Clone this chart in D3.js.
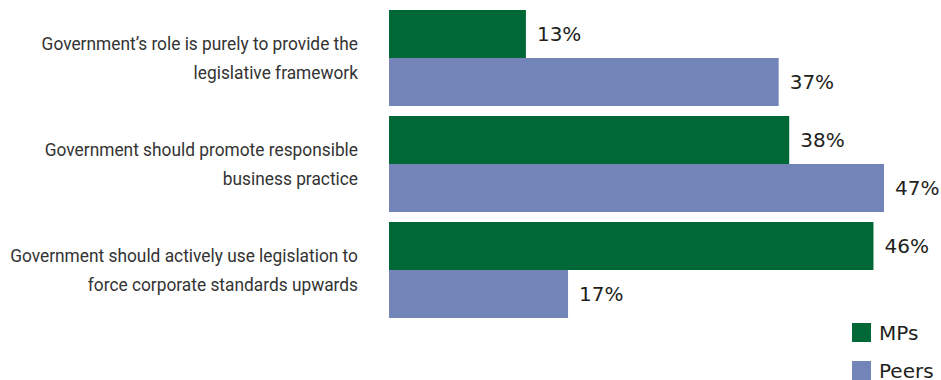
<!DOCTYPE html>
<html>
<head>
<meta charset="utf-8">
<script src="https://cdn.jsdelivr.net/npm/d3@7"></script>
<style>
  html, body { margin: 0; padding: 0; background: #fff; }
  svg { display: block; }
</style>
</head>
<body>
<svg id="chart" width="941" height="380"></svg>
<script>
// Survey statements (each split over two lines)
const categories = [
  ["Government\u2019s role is purely to provide the", "legislative framework"],
  ["Government should promote responsible", "business practice"],
  ["Government should actively use legislation to", "force corporate standards upwards"]
];
const seriesNames = ["MPs", "Peers"];
const mpsValues = [13, 38, 46];
const peersValues = [37, 47, 17];
const colors = ["#006837", "#7384b9"];

const svg = d3.select("#chart");
const labelFont = "Roboto, 'Liberation Sans', sans-serif";
const valueFont = "'DejaVu Sans', sans-serif";
const textColor = "#231f20";

const x = d3.scaleLinear().domain([0, 47]).range([389, 884]);
const y0 = d3.scaleBand().domain(d3.range(categories.length)).range([10, 318]).paddingInner(10 / 106).paddingOuter(0);
const y1 = d3.scaleBand().domain(seriesNames).range([0, y0.bandwidth()]);

const rows = categories.map((c, i) => ({
  i, lines: c,
  values: [{ s: "MPs", v: mpsValues[i] }, { s: "Peers", v: peersValues[i] }]
}));

const g = svg.selectAll("g.group").data(rows).join("g")
  .attr("class", "group")
  .attr("transform", d => `translate(0,${y0(d.i)})`);

g.selectAll("rect").data(d => d.values).join("rect")
  .attr("x", x(0))
  .attr("y", d => y1(d.s))
  .attr("width", d => x(d.v) - x(0))
  .attr("height", y1.bandwidth())
  .attr("fill", d => colors[seriesNames.indexOf(d.s)]);

g.selectAll("text.value").data(d => d.values).join("text")
  .attr("class", "value")
  .attr("x", d => x(d.v) + 11)
  .attr("y", d => y1(d.s) + y1.bandwidth() / 2)
  .attr("dy", "0.36em")
  .attr("font-family", valueFont)
  .attr("font-size", 20)
  .attr("fill", textColor)
  .text(d => d.v + "%");

// Category labels: a condensed look made by narrowing the text horizontally
const lineGap = 29;
const labelRight = 358, labelColumn = 348;
const labels = g.append("g")
  .attr("transform", d => `translate(${labelRight},${y0.bandwidth() / 2})`);
const labelText = labels.append("text")
  .attr("text-anchor", "end")
  .attr("font-family", labelFont)
  .attr("font-size", 19)
  .attr("fill", "#333");
labelText.each(function (d) {
  const t = d3.select(this);
  d.lines.forEach((ln, k) => {
    t.append("tspan")
      .attr("x", 0)
      .attr("y", (k - (d.lines.length - 1) / 2) * lineGap)
      .attr("dy", "0.36em")
      .text(ln);
  });
});
let widest = 0;
labelText.selectAll("tspan").each(function () {
  widest = Math.max(widest, this.getComputedTextLength());
});
const squeeze = labelColumn / widest;
labelText.attr("transform", `scale(${squeeze},1)`);

// Legend
const legend = svg.append("g").selectAll("g").data(seriesNames).join("g")
  .attr("transform", (d, i) => `translate(852,${323 + i * 38})`);
legend.append("rect")
  .attr("width", 19).attr("height", 19)
  .attr("fill", (d, i) => colors[i]);
legend.append("text")
  .attr("x", 27).attr("y", 9.5).attr("dy", "0.36em")
  .attr("font-family", valueFont)
  .attr("font-size", 20)
  .attr("fill", textColor)
  .text(d => d);
</script>
</body>
</html>
